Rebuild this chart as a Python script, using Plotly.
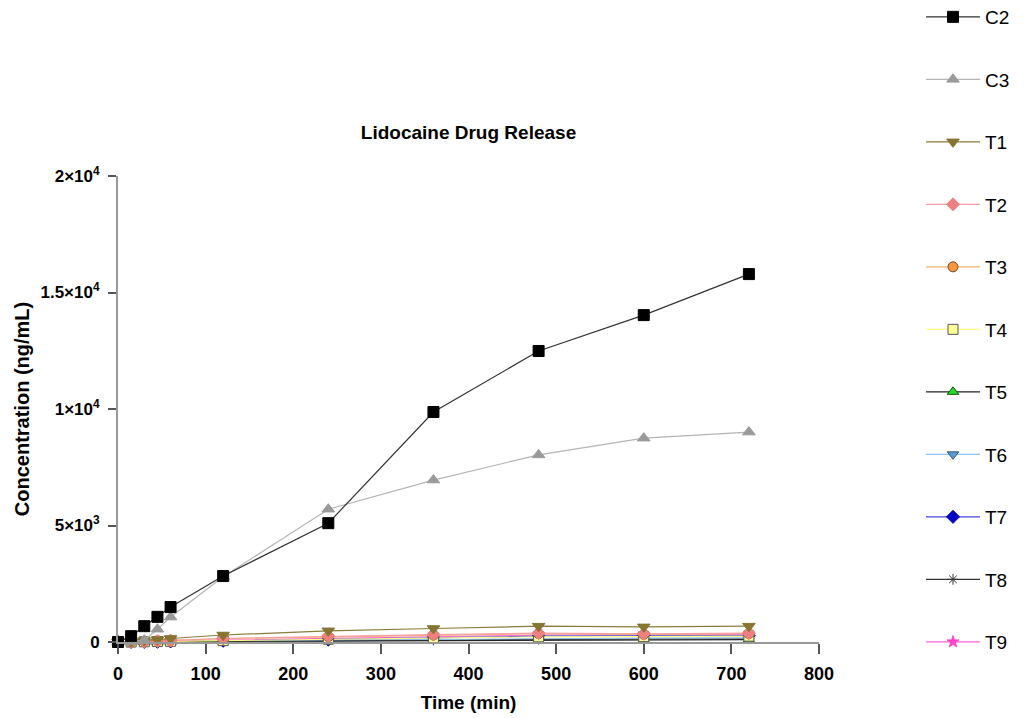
import plotly.graph_objects as go

time_min = [0, 15, 30, 45, 60, 120, 240, 360, 480, 600, 720]

C2 = [0, 250, 680, 1080, 1500, 2830, 5100, 9870, 12490, 14030, 15790]
C3 = [0, 20, 80, 550, 1070, 2800, 5700, 6950, 8030, 8750, 9010]
T1 = [0, 20, 60, 100, 150, 300, 480, 580, 680, 650, 680]
T2 = [0, 10, 20, 40, 60, 150, 250, 320, 380, 350, 380]
T3 = [0, 10, 30, 50, 70, 150, 230, 300, 360, 330, 360]
T4 = [0, 0, 10, 20, 30, 60, 120, 160, 220, 230, 250]
T5 = [0, 0, 0, 5, 10, 30, 40, 60, 80, 90, 100]
T6 = [0, 0, 5, 10, 15, 40, 80, 120, 160, 170, 180]
T7 = [0, 0, 5, 10, 20, 50, 100, 180, 250, 260, 270]
T8 = [0, 0, 0, 5, 10, 30, 60, 90, 120, 130, 140]
T9 = [0, 5, 10, 20, 30, 80, 150, 230, 300, 310, 320]

y_tickvals = [0, 5000, 10000, 15000, 20000]
y_ticktext = ["0", "5×10<sup>3</sup>", "1×10<sup>4</sup>", "1.5×10<sup>4</sup>", "2×10<sup>4</sup>"]
x_tickvals = [0, 100, 200, 300, 400, 500, 600, 700, 800]

# name, data, line color, marker symbol, marker fill, marker outline, marker size
series = [
    ("C2", C2, "#333333", "square", "#000000", "#000000", 11),
    ("C3", C3, "#b4b4b4", "triangle-up", "#9a9a9a", "#9a9a9a", 11),
    ("T1", T1, "#8a7d3a", "triangle-down", "#857530", "#857530", 11),
    ("T2", T2, "#f4a0a0", "diamond", "#f08080", "#f08080", 10),
    ("T3", T3, "#f5b070", "circle", "#f7963c", "#6b4a2a", 10),
    ("T4", T4, "#ffff80", "square", "#ffff99", "#555555", 10),
    ("T5", T5, "#222222", "triangle-up", "#22dd22", "#115511", 10),
    ("T6", T6, "#8ec0ee", "triangle-down", "#5b9bd5", "#335577", 10),
    ("T7", T7, "#4444dd", "diamond", "#0000cc", "#000088", 10),
    ("T8", T8, "#333333", "asterisk-open", "#333333", "#333333", 9),
    ("T9", T9, "#ff66dd", "star", "#ff44cc", "#ff44cc", 9),
]

fig = go.Figure()
for rank, (name, vals, lc, sym, fc, oc, sz) in reversed(list(enumerate(series))):
    fig.add_trace(go.Scatter(
        x=time_min, y=vals, name=name, mode="lines+markers",
        legendgroup=name, legendrank=rank + 1,
        line=dict(color=lc, width=1.2),
        marker=dict(symbol=sym, color=fc, size=sz,
                    line=dict(color=oc, width=1)),
        cliponaxis=False,
    ))

fig.update_layout(
    width=1030, height=718,
    paper_bgcolor="white", plot_bgcolor="white",
    margin=dict(l=118, r=211, t=176, b=76, autoexpand=False),
    font=dict(family="Liberation Sans, Arial, sans-serif", color="#000000"),
    title=dict(text="<b>Lidocaine Drug Release</b>", x=0.5, xref="paper",
               xanchor="center", y=1 - 132 / 718, yref="container",
               yanchor="middle", font=dict(size=19)),
    showlegend=True,
    legend=dict(x=(921 - 118) / 701, xanchor="left", y=1 + 178 / 466, yanchor="top",
                yref="paper", font=dict(size=19), tracegroupgap=34.8,
                itemwidth=54, maxheight=718, bgcolor="rgba(0,0,0,0)"),
    xaxis=dict(
        range=[0, 800], tickvals=x_tickvals, showgrid=False, zeroline=False,
        showline=True, linecolor="#999999", linewidth=2,
        ticks="outside", ticklen=10, tickwidth=1.5, tickcolor="#555555",
        ticklabelstandoff=4,
        tickfont=dict(family="Liberation Sans Narrow, Liberation Sans, Arial", size=18, weight="bold"),
        title=dict(text="<b>Time (min)</b>", font=dict(size=19), standoff=13),
    ),
    yaxis=dict(
        range=[0, 20000], tickvals=y_tickvals, ticktext=y_ticktext,
        showgrid=False, zeroline=False,
        showline=True, linecolor="#999999", linewidth=2,
        ticks="outside", ticklen=8, tickwidth=1.5, tickcolor="#555555",
        ticklabelstandoff=5,
        tickfont=dict(size=17, weight="bold"),
        title=dict(text="<b>Concentration (ng/mL)</b>", font=dict(size=20), standoff=5),
    ),
)

fig.write_html("out.html")
